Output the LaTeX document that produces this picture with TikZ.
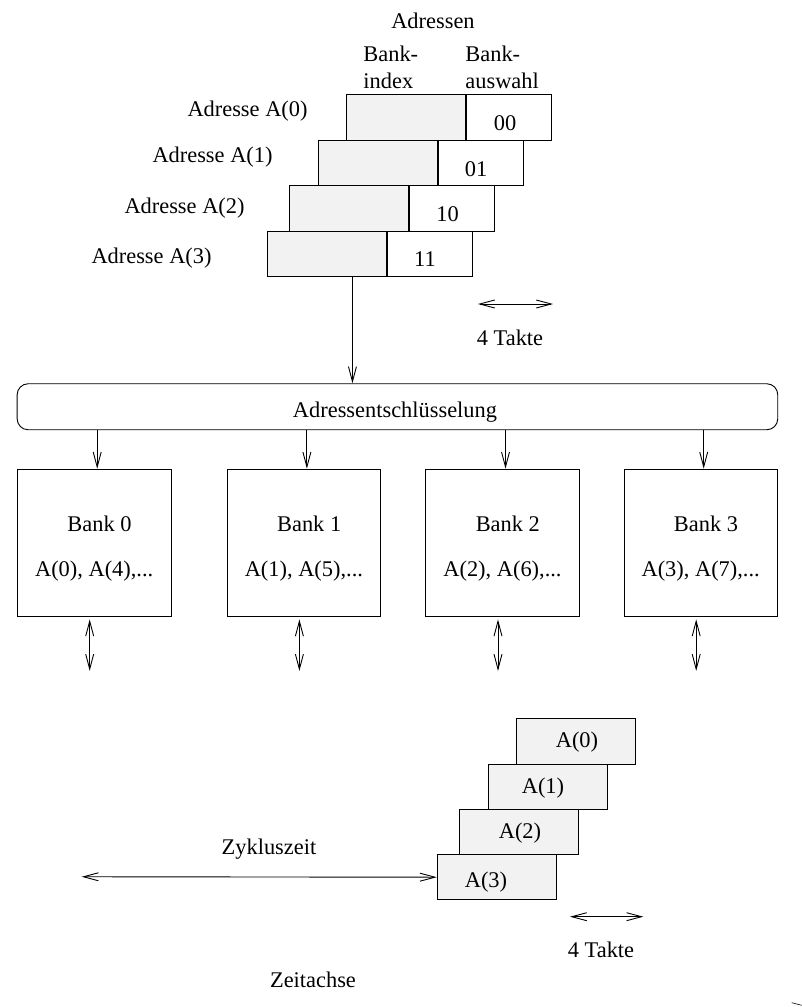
\documentclass[tikz,border=0pt]{standalone}
\usepackage{fontspec}
\setmainfont{Liberation Serif}
\usetikzlibrary{arrows.meta,calc}
\begin{document}
\begin{tikzpicture}[x=1pt,y=-1pt,
  font=\fontsize{22.4}{27}\selectfont,
  line width=0.9pt,
  >={Straight Barb[length=15pt,width=8pt,line width=0.9pt]},
  box/.style={draw, rectangle, inner sep=0pt, anchor=north west},
  gbox/.style={box, fill=black!5, minimum width=119pt, minimum height=45.5pt},
  wbox/.style={box, fill=white, minimum width=85pt, minimum height=45.5pt},
  tbox/.style={box, fill=black!5, minimum width=119pt, minimum height=45.3pt},
  bank/.style={box, minimum width=153.5pt, minimum height=147.3pt},
  txt/.style={inner sep=0pt, anchor=base},
  arr/.style={->},
  darr/.style={<->}]
\useasboundingbox (0,0) rectangle (802,1007);

% address header
\node[txt] (hdr) at (433,28) {Adressen};
\node[txt, anchor=base west] (bi1) at (363,61.7) {Bank-};
\node[txt, anchor=base west] (bi2) at (363,88) {index};
\node[txt, anchor=base west] (ba1) at (465,61.7) {Bank-};
\node[txt, anchor=base west] (ba2) at (465,88) {auswahl};

% address words: bank index (grey) + bank select (white)
\node[gbox] (g0) at (346,94) {};
\node[wbox] (w0) at (g0.north east) {};
\node[gbox] (g1) at (317.7,139.5) {};
\node[wbox] (w1) at (g1.north east) {};
\node[gbox] (g2) at (289,185) {};
\node[wbox] (w2) at (g2.north east) {};
\node[gbox] (g3) at (266.7,230.5) {};
\node[wbox] (w3) at (g3.north east) {};

\node[txt] (s0) at (505,130.5) {00};
\node[txt] (s1) at (476,176) {01};
\node[txt] (s2) at (447.5,221) {10};
\node[txt] (s3) at (425,266.5) {11};

\node[txt, anchor=base east] (l0) at (308,116.5) {Adresse A(0)};
\node[txt, anchor=base east] (l1) at (273,162) {Adresse A(1)};
\node[txt, anchor=base east] (l2) at (245,213) {Adresse A(2)};
\node[txt, anchor=base east] (l3) at (212,263.5) {Adresse A(3)};

% clock span
\coordinate (ta) at (478,304);
\coordinate (tb) at (553,304);
\draw[darr] (ta) -- (tb);
\node[txt] (tk1) at (510,345) {4 Takte};

% decoder
\node[draw, rounded corners=11pt, inner sep=0pt, anchor=north west,
      minimum width=760.6pt, minimum height=46pt] (dec) at (16.7,383.3) {};
\node[txt] (dect) at (395,417) {Adressentschl\"usselung};
\draw[arr] ($(g3.south)+(25.8,0)$) -- ($(g3.south |- dec.north)+(25.8,0)$);

% memory banks
\node[bank] (b0) at (17,468.7) {};
\node[bank] (b1) at (226.7,468.7) {};
\node[bank] (b2) at (425.3,468.7) {};
\node[bank] (b3) at (623.5,468.7) {};

\foreach \b/\i/\j in {b0/0/4, b1/1/5, b2/2/6, b3/3/7}{
  \node[txt, anchor=base west] (\b n) at ($(\b.north west |- 0,531)+(50,0)$) {Bank \i};
  \node[txt] (\b a) at ($(\b.north |- 0,576)+(0,0)$) {A(\i), A(\j),...};
  \draw[arr] ($(\b.north |- dec.south)+(3,0)$) -- ($(\b.north)+(3,0)$);
  \coordinate (\b lo) at ($(\b.south)+(-4.5,54)$);
  \draw[darr] ($(\b.south)+(-4.5,2.5)$) -- (\b lo);
}

% timing of the interleaved accesses
\node[tbox] (t0) at (515.7,718.3) {};
\node[tbox] (t1) at (487.7,763.5) {};
\node[tbox] (t2) at (459.3,808.8) {};
\node[tbox] (t3) at (436.7,854.1) {};
\node[txt] (a0) at (577,747.5) {A(0)};
\node[txt] (a1) at (543,793) {A(1)};
\node[txt] (a2) at (520,838) {A(2)};
\node[txt] (a3) at (486,887.5) {A(3)};

\coordinate (zl) at (81.7,876.75);
\draw[darr] (zl) -- (t3.west);
\node[txt] (zyk) at (269,854) {Zykluszeit};

\coordinate (tc) at (570,916.7);
\coordinate (td) at (643.3,916.7);
\draw[darr] (tc) -- (td);
\node[txt] (tk2) at (601,957) {4 Takte};

\node[txt] (zeit) at (313,987) {Zeitachse};

\draw[line width=0.6pt] (791.7,1002.7) -- (801.7,1005.3);
\end{tikzpicture}
\end{document}
